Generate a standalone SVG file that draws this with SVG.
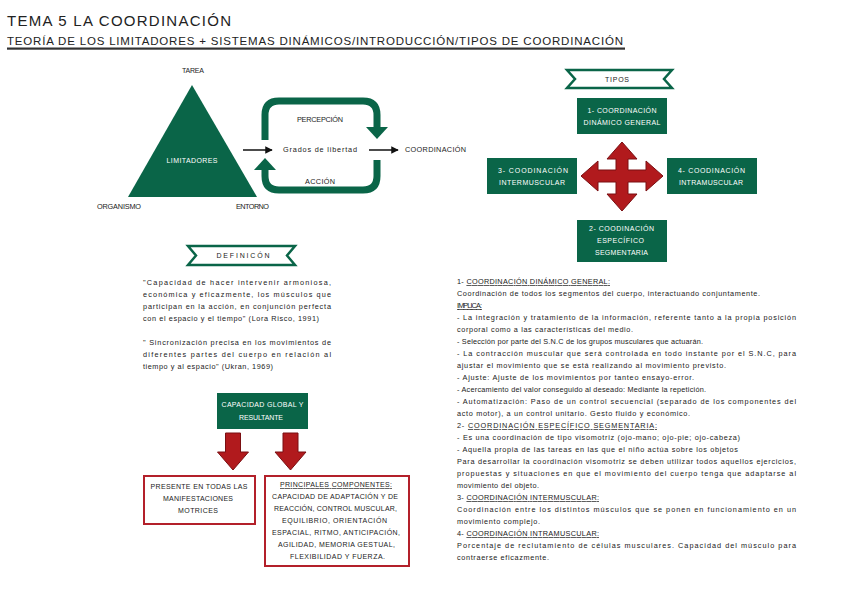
<svg xmlns="http://www.w3.org/2000/svg" width="848" height="600" viewBox="0 0 848 600">
<defs>
<style>
text{font-family:"Liberation Sans","DejaVu Sans",sans-serif;}
.t{font-size:7.3px;fill:#222;}
.w{font-size:7px;fill:#fff;text-anchor:middle;}
.k{font-size:7px;fill:#222;text-anchor:middle;}
.gbox{fill:#0a6548;}
.rbox{fill:#fff;stroke:#b3202a;stroke-width:2;}
.rib{fill:#fff;stroke:#0a6548;stroke-width:2.5;stroke-linejoin:miter;}
.loop{fill:none;stroke:#0a6548;stroke-width:7;}
.gh{fill:#0a6548;}
.red{fill:#b11a1d;stroke:#7a0f12;stroke-width:1;}
.blk{stroke:#111;stroke-width:1.5;fill:none;}
.u{text-decoration:underline;}
</style>
<marker id="ah" viewBox="0 0 10 10" refX="9" refY="5" markerWidth="5" markerHeight="5" orient="auto">
<path d="M0,0 L10,5 L0,10 z" fill="#111"/>
</marker>
</defs>
<rect width="848" height="600" fill="#fff"/>

<g id="title">
<text x="7" y="26" font-size="15" fill="#222" textLength="224" lengthAdjust="spacing">TEMA 5 LA COORDINACIÓN</text>
<text x="7" y="45" font-size="11.5" fill="#222" textLength="616" lengthAdjust="spacing">TEORÍA DE LOS LIMITADORES + SISTEMAS DINÁMICOS/INTRODUCCIÓN/TIPOS DE COORDINACIÓN</text>
<rect x="7" y="47.5" width="618" height="2.2" fill="#333"/>
</g>

<g id="limitadores">
<polygon points="192,85 128,197 257,197" fill="#0a6548"/>
<text x="192" y="163" class="w" textLength="51" lengthAdjust="spacing">LIMITADORES</text>
<text x="193" y="73" class="k" textLength="22" lengthAdjust="spacing">TAREA</text>
<text x="97" y="209" class="t" font-size="7" textLength="44" lengthAdjust="spacing">ORGANISMO</text>
<text x="236" y="209" class="t" font-size="7" textLength="33" lengthAdjust="spacing">ENTORNO</text>
</g>

<g id="grados">
<text x="283" y="152" class="t" textLength="74" lengthAdjust="spacing">Grados de libertad</text>
<text x="297" y="122" class="t" font-size="7" textLength="46" lengthAdjust="spacing">PERCEPCIÓN</text>
<text x="305" y="184" class="t" font-size="7" textLength="30" lengthAdjust="spacing">ACCIÓN</text>
</g>

<g id="coordinacion">
<text x="405" y="152" class="t" font-size="7" textLength="61" lengthAdjust="spacing">COORDINACIÓN</text>
</g>

<g id="connectors">
<line x1="243" y1="150" x2="272" y2="150" class="blk" marker-end="url(#ah)"/>
<line x1="369" y1="150" x2="398" y2="150" class="blk" marker-end="url(#ah)"/>
<path class="loop" d="M265,140 V115 Q265,101 279,101 H363 Q377,101 377,115 V128"/>
<polygon class="gh" points="366,127 388,127 377,139"/>
<path class="loop" d="M377,160 V176 Q377,190 363,190 H279 Q265,190 265,176 V169"/>
<polygon class="gh" points="254,170 276,170 265,158"/>
<polygon class="red" points="622,142 637,159 628,159 628,170 646,170 646,161 663,176 646,191 646,182 628,182 628,194 637,194 622,211 607,194 616,194 616,182 598,182 598,191 581,176 598,161 598,170 616,170 616,159 607,159"/>
<polygon class="red" points="225.5,433 240.5,433 240.5,452 248.5,452 233,470 217.5,452 225.5,452"/>
<polygon class="red" points="283,433 298,433 298,452 306,452 290.5,470 275,452 283,452"/>
</g>

<g id="tipos">
<polygon class="rib" points="567,70 672,70 664,79 672,88 567,88 575,79"/>
<text x="617" y="82" class="k" font-size="7.5" textLength="24" lengthAdjust="spacing">TIPOS</text>
</g>

<g id="tipo1">
<rect x="577" y="98" width="90" height="36" class="gbox"/>
<text x="622" y="113" class="w" textLength="69" lengthAdjust="spacing">1- COORDINACIÓN</text>
<text x="622" y="125" class="w" textLength="77" lengthAdjust="spacing">DINÁMICO GENERAL</text>
</g>
<g id="tipo3">
<rect x="487" y="158" width="90" height="36" class="gbox"/>
<text x="533" y="173" class="w" textLength="70" lengthAdjust="spacing">3- COODINACIÓN</text>
<text x="532" y="185" class="w" textLength="66" lengthAdjust="spacing">INTERMUSCULAR</text>
</g>
<g id="tipo4">
<rect x="667" y="158" width="90" height="36" class="gbox"/>
<text x="711.5" y="173" class="w" textLength="67" lengthAdjust="spacing">4- COODINACIÓN</text>
<text x="711" y="185" class="w" textLength="64" lengthAdjust="spacing">INTRAMUSCULAR</text>
</g>
<g id="tipo2">
<rect x="577" y="220" width="90" height="42" class="gbox"/>
<text x="621.5" y="231" class="w" textLength="65" lengthAdjust="spacing">2- COODINACIÓN</text>
<text x="620.5" y="243" class="w" textLength="47" lengthAdjust="spacing">ESPECÍFICO</text>
<text x="621.5" y="255" class="w" textLength="53" lengthAdjust="spacing">SEGMENTARIA</text>
</g>

<g id="definicion">
<polygon class="rib" points="188,246 295,246 287,255.5 295,265 188,265 196,255.5"/>
<text x="243" y="258" class="k" font-size="7.5" textLength="53" lengthAdjust="spacing">DEFINICÓN</text>
<text x="143" y="285" class="t" font-size="7" textLength="188" lengthAdjust="spacing">"Capacidad de hacer intervenir armoniosa,</text>
<text x="143" y="297" class="t" font-size="7" textLength="188" lengthAdjust="spacing">económica y eficazmente, los músculos que</text>
<text x="143" y="309" class="t" font-size="7" textLength="188" lengthAdjust="spacing">participan en la acción, en conjunción perfecta</text>
<text x="143" y="321" class="t" font-size="7" textLength="176" lengthAdjust="spacing">con el espacio y el tiempo" (Lora Risco, 1991)</text>
<text x="143" y="345" class="t" font-size="7" textLength="188" lengthAdjust="spacing">" Sincronización precisa en los movimientos de</text>
<text x="143" y="357" class="t" font-size="7" textLength="188" lengthAdjust="spacing">diferentes partes del cuerpo en relación al</text>
<text x="143" y="369" class="t" font-size="7" textLength="130" lengthAdjust="spacing">tiempo y al espacio" (Ukran, 1969)</text>
</g>

<g id="capacidad">
<rect x="217" y="393" width="91" height="36" class="gbox"/>
<text x="262.5" y="407" class="w" textLength="82" lengthAdjust="spacing">CAPACIDAD GLOBAL Y</text>
<text x="261" y="420" class="w" textLength="44" lengthAdjust="spacing">RESULTANTE</text>
</g>

<g id="presente">
<rect x="144" y="476" width="111" height="48" class="rbox"/>
<text x="199" y="489" class="k" textLength="97" lengthAdjust="spacing">PRESENTE EN TODAS LAS</text>
<text x="198" y="501" class="k" textLength="70" lengthAdjust="spacing">MANIFESTACIONES</text>
<text x="198" y="513" class="k" textLength="40" lengthAdjust="spacing">MOTRICES</text>
</g>

<g id="componentes">
<rect x="265" y="476" width="144" height="90" class="rbox"/>
<text x="336" y="487" class="k u" textLength="112" lengthAdjust="spacing">PRINCIPALES COMPONENTES:</text>
<text x="335" y="499" class="k" textLength="126" lengthAdjust="spacing">CAPACIDAD DE ADAPTACIÓN Y DE</text>
<text x="335.5" y="511" class="k" textLength="123" lengthAdjust="spacing">REACCIÓN, CONTROL MUSCULAR,</text>
<text x="334.5" y="523" class="k" textLength="105" lengthAdjust="spacing">EQUILIBRIO, ORIENTACIÓN</text>
<text x="336" y="535" class="k" textLength="128" lengthAdjust="spacing">ESPACIAL, RITMO, ANTICIPACIÓN,</text>
<text x="336.5" y="547" class="k" textLength="117" lengthAdjust="spacing">AGILIDAD, MEMORIA GESTUAL,</text>
<text x="337.5" y="559" class="k" textLength="95" lengthAdjust="spacing">FLEXIBILIDAD Y FUERZA.</text>
</g>

<g id="explicacion">
<text x="457" y="284" class="t" textLength="153" lengthAdjust="spacing">1- <tspan class="u">COORDINACIÓN DINÁMICO GENERAL:</tspan></text>
<text x="457" y="296" class="t" textLength="303" lengthAdjust="spacing">Coordinación de todos los segmentos del cuerpo, interactuando conjuntamente.</text>
<text x="457" y="308" class="t u" font-size="7" textLength="25" lengthAdjust="spacing">IMPLICA:</text>
<text x="457" y="320" class="t" textLength="339" lengthAdjust="spacing">- La integración y tratamiento de la información, referente tanto a la propia posición</text>
<text x="457" y="332" class="t" textLength="176" lengthAdjust="spacing">corporal como a las características del medio.</text>
<text x="457" y="344" class="t" textLength="246" lengthAdjust="spacing">- Selección por parte del S.N.C de los grupos musculares que actuarán.</text>
<text x="457" y="356" class="t" textLength="339" lengthAdjust="spacing">- La contracción muscular que será controlada en todo instante por el S.N.C, para</text>
<text x="457" y="368" class="t" textLength="269" lengthAdjust="spacing">ajustar el movimiento que se está realizando al movimiento previsto.</text>
<text x="457" y="380" class="t" textLength="237" lengthAdjust="spacing">- Ajuste: Ajuste de los movimientos por tanteo ensayo-error.</text>
<text x="457" y="392" class="t" textLength="249" lengthAdjust="spacing">- Acercamiento del valor conseguido al deseado: Mediante la repetición.</text>
<text x="457" y="404" class="t" textLength="339" lengthAdjust="spacing">- Automatización: Paso de un control secuencial (separado de los componentes del</text>
<text x="457" y="416" class="t" textLength="233" lengthAdjust="spacing">acto motor), a un control unitario. Gesto fluido y económico.</text>
<text x="457" y="428" class="t" textLength="200" lengthAdjust="spacing">2- <tspan class="u">COORDINACIÓN ESPECÍFICO SEGMENTARIA:</tspan></text>
<text x="457" y="440" class="t" textLength="283" lengthAdjust="spacing">- Es una coordinación de tipo visomotriz (ojo-mano; ojo-pie; ojo-cabeza)</text>
<text x="457" y="452" class="t" textLength="281" lengthAdjust="spacing">- Aquella propia de las tareas en las que el niño actúa sobre los objetos</text>
<text x="457" y="464" class="t" textLength="339" lengthAdjust="spacing">Para desarrollar la coordinación visomotriz se deben utilizar todos aquellos ejercicios,</text>
<text x="457" y="476" class="t" textLength="339" lengthAdjust="spacing">propuestas y situaciones en que el movimiento del cuerpo tenga que adaptarse al</text>
<text x="457" y="488" class="t" textLength="82" lengthAdjust="spacing">movimiento del objeto.</text>
<text x="457" y="500" class="t" textLength="142" lengthAdjust="spacing">3- <tspan class="u">COORDINACIÓN INTERMUSCULAR:</tspan></text>
<text x="457" y="512" class="t" textLength="339" lengthAdjust="spacing">Coordinación entre los distintos músculos que se ponen en funcionamiento en un</text>
<text x="457" y="524" class="t" textLength="83" lengthAdjust="spacing">movimiento complejo.</text>
<text x="457" y="536" class="t" textLength="142" lengthAdjust="spacing">4- <tspan class="u">COORDINACIÓN INTRAMUSCULAR:</tspan></text>
<text x="457" y="548" class="t" textLength="339" lengthAdjust="spacing">Porcentaje de reclutamiento de células musculares. Capacidad del músculo para</text>
<text x="457" y="560" class="t" textLength="92" lengthAdjust="spacing">contraerse eficazmente.</text>
</g>
</svg>
